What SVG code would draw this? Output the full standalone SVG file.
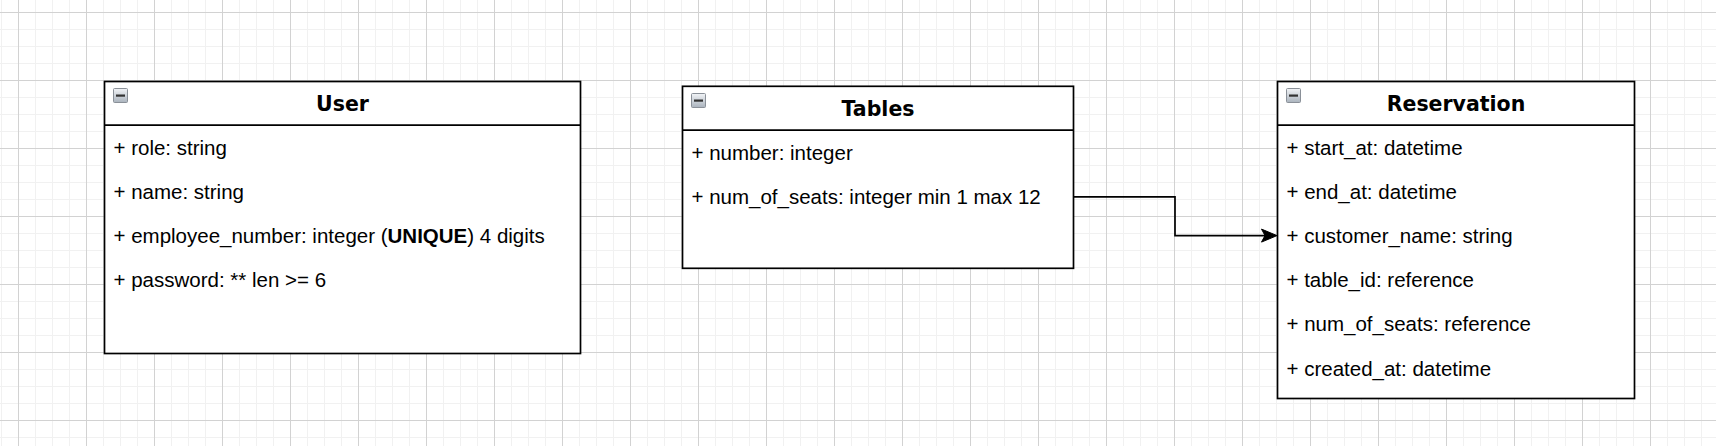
<svg xmlns="http://www.w3.org/2000/svg" width="1716" height="446" viewBox="0 0 1716 446">
  <style>
    .box { fill: #ffffff; stroke: #000000; stroke-width: 1.7; }
    .div { stroke: #000000; stroke-width: 1.7; fill: none; }
    .title { font-family: "DejaVu Sans", Verdana, sans-serif; font-weight: bold; font-size: 20.5px; fill: #000000; text-anchor: middle; }
    .attr { font-family: "Liberation Sans", Arial, Helvetica, sans-serif; font-size: 20.5px; fill: #000000; }
    .b { font-weight: bold; }
    .edge { fill: none; stroke: #000000; stroke-width: 1.7; }
  </style>
  <defs>
    <pattern id="grid" x="18" y="12" width="68" height="68" patternUnits="userSpaceOnUse">
      <rect x="0" y="0" width="68" height="68" fill="#ffffff"/>
      <rect x="17" y="0" width="1" height="68" fill="#f1f1f1"/>
      <rect x="34" y="0" width="1" height="68" fill="#f1f1f1"/>
      <rect x="51" y="0" width="1" height="68" fill="#f1f1f1"/>
      <rect x="0" y="17" width="68" height="1" fill="#f1f1f1"/>
      <rect x="0" y="34" width="68" height="1" fill="#f1f1f1"/>
      <rect x="0" y="51" width="68" height="1" fill="#f1f1f1"/>
      <rect x="0" y="0" width="1" height="68" fill="#d2d2d2"/>
      <rect x="0" y="0" width="68" height="1" fill="#d2d2d2"/>
    </pattern>
    <linearGradient id="iconGrad" x1="0" y1="0" x2="0" y2="1">
      <stop offset="0" stop-color="#f2f4f7"/>
      <stop offset="1" stop-color="#aab3bd"/>
    </linearGradient>
    <g id="collapse">
      <rect x="0.5" y="0.5" width="14" height="14" rx="1" fill="url(#iconGrad)" stroke="#8a9098" stroke-width="1"/>
      <rect x="3" y="6.5" width="9" height="2.2" fill="#333333"/>
    </g>
    <marker id="arrow" markerUnits="userSpaceOnUse" markerWidth="40" markerHeight="40" refX="0" refY="0" orient="auto" overflow="visible">
      <path d="M12,0 L-3.5,-6.5 L0,0 L-3.5,6.5 Z" fill="#000000" stroke="#000000" stroke-width="1" stroke-linejoin="miter"/>
    </marker>
  </defs>

  <rect x="0" y="0" width="1716" height="446" fill="url(#grid)"/>

  <g id="connectors">
    <path class="edge" d="M1074,196.8 L1175,196.8 L1175,235.6 L1265,235.6" marker-end="url(#arrow)"/>
  </g>

  <g id="node-user">
    <rect class="box" x="104.5" y="81.5" width="476" height="272"/>
    <line class="div" x1="104.5" y1="125.2" x2="580.5" y2="125.2"/>
    <use href="#collapse" x="113" y="88"/>
    <text class="title" x="342.5" y="110.7">User</text>
    <text class="attr" x="113.5" y="155">+ role: string</text>
    <text class="attr" x="113.5" y="199.1">+ name: string</text>
    <text class="attr" x="113.5" y="243.2">+ employee_number: integer (<tspan class="b">UNIQUE</tspan>) 4 digits</text>
    <text class="attr" x="113.5" y="287.3">+ password: ** len &gt;= 6</text>
  </g>

  <g id="node-tables">
    <rect class="box" x="682.5" y="86.3" width="391" height="182"/>
    <line class="div" x1="682.5" y1="130.2" x2="1073.5" y2="130.2"/>
    <use href="#collapse" x="691" y="93"/>
    <text class="title" x="878" y="115.7">Tables</text>
    <text class="attr" x="691.5" y="160">+ number: integer</text>
    <text class="attr" x="691.5" y="204.1">+ num_of_seats: integer min 1 max 12</text>
  </g>

  <g id="node-reservation">
    <rect class="box" x="1277.5" y="81.5" width="357" height="317"/>
    <line class="div" x1="1277.5" y1="125.2" x2="1634.5" y2="125.2"/>
    <use href="#collapse" x="1286" y="88"/>
    <text class="title" x="1456" y="110.7">Reservation</text>
    <text class="attr" x="1286.5" y="155">+ start_at: datetime</text>
    <text class="attr" x="1286.5" y="199.1">+ end_at: datetime</text>
    <text class="attr" x="1286.5" y="243.2">+ customer_name: string</text>
    <text class="attr" x="1286.5" y="287.3">+ table_id: reference</text>
    <text class="attr" x="1286.5" y="331.4">+ num_of_seats: reference</text>
    <text class="attr" x="1286.5" y="375.5">+ created_at: datetime</text>
  </g>
</svg>
